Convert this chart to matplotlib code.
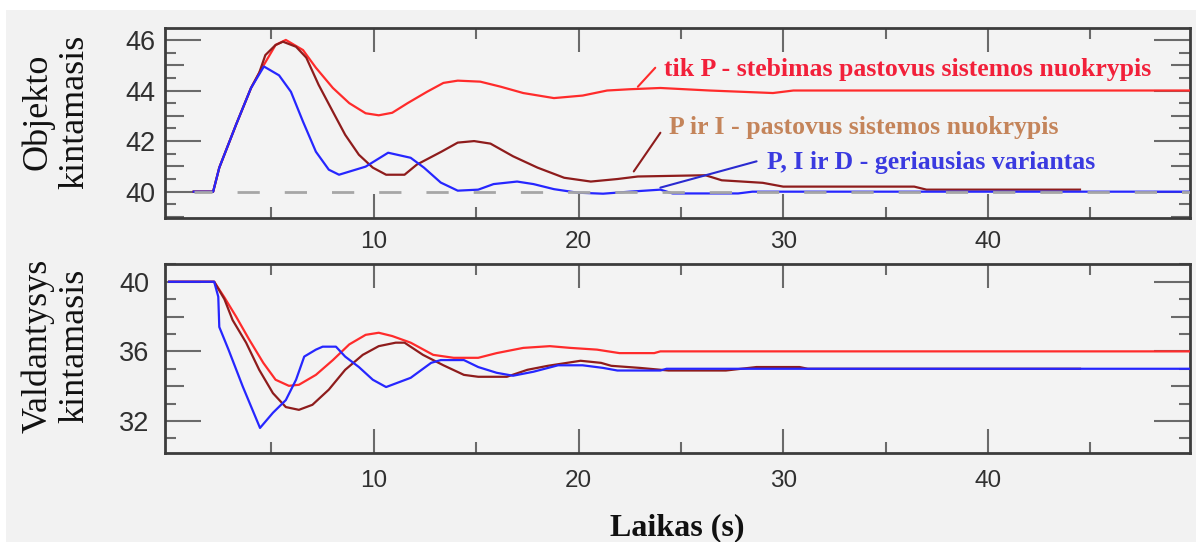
import matplotlib
matplotlib.use('Agg')
import matplotlib.pyplot as plt
from matplotlib.ticker import MultipleLocator, FixedLocator
from matplotlib.patches import Rectangle

plt.rcParams['font.family'] = ['Liberation Sans', 'DejaVu Sans']
plt.rcParams['lines.scale_dashes'] = False

# --- values ---
# top panel: controlled variable (Objekto kintamasis)
t_p_top = [1.2, 2.15, 2.45, 3.27, 4.0, 4.4, 5.2, 5.7, 6.54, 7.17, 8.0, 8.8, 9.6, 10.24,
           10.9, 11.65, 12.6, 13.4, 14.1, 15.2, 16.2, 17.3, 18.8, 20.2, 21.4, 22.5,
           24.0, 26.4, 29.5, 30.5, 49.9]
y_p_top = [40, 40, 40.95, 42.65, 44.1, 44.7, 45.8, 46.0, 45.6, 44.9, 44.1, 43.5, 43.1, 43.02,
           43.12, 43.5, 43.95, 44.3, 44.39, 44.35, 44.15, 43.9, 43.7, 43.8, 44.0, 44.05,
           44.1, 44.0, 43.9, 44.0, 44.0]

t_pi_top = [1.2, 2.15, 2.45, 3.27, 4.0, 4.4, 4.7, 5.2, 5.56, 6.2, 6.7, 7.3, 8.0, 8.6, 9.27,
            9.95, 10.6, 11.5, 12.1, 13.3, 14.1, 14.9, 15.7, 16.8, 18.0, 19.3, 20.6, 21.9,
            22.9, 26.2, 27.0, 29.0, 30.0, 36.4, 37.0, 44.5]
y_pi_top = [40, 40, 40.95, 42.65, 44.1, 44.7, 45.4, 45.8, 45.93, 45.73, 45.3, 44.23, 43.16,
            42.25, 41.46, 40.95, 40.67, 40.67, 41.07, 41.58, 41.94, 42.0, 41.9, 41.4, 40.95,
            40.55, 40.4, 40.5, 40.6, 40.65, 40.45, 40.35, 40.2, 40.2, 40.08, 40.08]

t_pid_top = [1.2, 2.15, 2.45, 3.27, 4.0, 4.63, 5.37, 5.95, 6.54, 7.17, 7.8, 8.3, 9.6, 10.7,
             11.8, 12.45, 13.27, 14.1, 15.1, 15.85, 17.0, 17.8, 18.8, 19.95, 21.2, 22.5,
             24.0, 24.6, 27.8, 28.5, 49.9]
y_pid_top = [40, 40, 40.95, 42.65, 44.1, 44.95, 44.6, 43.95, 42.77, 41.58, 40.87, 40.67,
             40.99, 41.54, 41.34, 40.95, 40.36, 40.04, 40.08, 40.3, 40.4, 40.3, 40.1, 39.96,
             39.92, 40.0, 40.08, 39.93, 39.93, 40.0, 40.0]

setpoint = 40

# bottom panel: manipulated variable (Valdantysys kintamasis)
t_p_bot = [0, 2.2, 2.7, 3.27, 3.9, 4.6, 5.2, 5.85, 6.34, 7.17, 8.0, 8.8, 9.6, 10.24, 10.9,
           11.8, 12.9, 13.9, 15.1, 16.0, 17.3, 18.6, 19.6, 20.9, 22.0, 23.7, 24.0, 49.9]
y_p_bot = [40, 40, 39.1, 38.0, 36.7, 35.34, 34.37, 34.02, 34.08, 34.65, 35.5, 36.4, 36.95,
           37.07, 36.88, 36.5, 35.8, 35.63, 35.63, 35.9, 36.2, 36.3, 36.2, 36.1, 35.9, 35.9,
           36.0, 36.0]

t_pi_bot = [0, 2.2, 2.7, 3.1, 3.76, 4.4, 5.07, 5.7, 6.34, 7.0, 7.8, 8.6, 9.46, 10.24, 11.07,
            11.5, 12.4, 13.4, 14.4, 15.1, 16.5, 17.5, 18.5, 20.1, 21.1, 21.6, 23.0, 24.4,
            27.2, 28.7, 30.8, 31.2, 44.5]
y_pi_bot = [40, 40, 39.0, 37.8, 36.5, 34.94, 33.6, 32.8, 32.64, 32.93, 33.8, 34.94, 35.8,
            36.3, 36.5, 36.5, 35.8, 35.2, 34.65, 34.54, 34.54, 34.94, 35.17, 35.46, 35.34,
            35.17, 35.05, 34.9, 34.9, 35.1, 35.1, 35.0, 35.0]

t_pid_bot = [0, 2.2, 2.4, 2.45, 2.9, 3.6, 4.44, 5.07, 5.7, 6.2, 6.6, 7.17, 7.5, 8.15, 8.6,
             9.27, 9.95, 10.6, 11.8, 12.8, 13.27, 14.4, 15.1, 16.0, 16.8, 17.8, 19.0, 20.2,
             21.2, 21.9, 24.0, 24.3, 49.9]
y_pid_bot = [40, 40, 39.14, 37.4, 36.1, 33.97, 31.6, 32.47, 33.2, 34.37, 35.7, 36.1, 36.27,
             36.27, 35.7, 35.1, 34.37, 33.95, 34.48, 35.34, 35.5, 35.5, 35.1, 34.77, 34.6,
             34.83, 35.2, 35.2, 35.05, 34.9, 34.9, 35.0, 35.0]

x_major = [10, 20, 30, 40]
x_minor = [5, 15, 25, 35, 45]

c_p = '#ff2b2b'
c_pi = '#8e1c1c'
c_pid = '#2626ff'
bg = '#f3f3f3'

fig = plt.figure(figsize=(11.96, 5.42), dpi=100, facecolor='white')
fig.add_artist(Rectangle((6 / 1196, 0), 1, 1 - 10 / 542, transform=fig.transFigure,
                         facecolor='#f2f2f2', edgecolor='none', zorder=-10))

ax_top = fig.add_axes([0.138, 0.5969, 0.8574, 0.3509])
ax_bot = fig.add_axes([0.138, 0.1642, 0.8574, 0.3487])


def style(ax, ylim, major, minor, is_medium, ypad, xpad):
    ax.set_facecolor(bg)
    ax.set_xlim(-0.2, 49.9)
    ax.set_ylim(*ylim)
    ax.xaxis.set_major_locator(FixedLocator(x_major))
    ax.xaxis.set_minor_locator(FixedLocator(x_minor))
    ax.yaxis.set_major_locator(MultipleLocator(major))
    ax.yaxis.set_minor_locator(MultipleLocator(minor))
    ax.tick_params(which='both', direction='in', top=True, right=True,
                   color='#6a6a6a', width=1.5, labelcolor='#303030')
    ax.tick_params(axis='x', which='major', length=17, labelsize=17.5, pad=xpad)
    ax.tick_params(axis='y', which='major', length=26, labelsize=19.5, pad=ypad)
    ax.tick_params(which='minor', length=8)
    for sp in ax.spines.values():
        sp.set_color('#3c3c3c')
        sp.set_linewidth(2)
    # medium-length ticks between the labelled ones
    locs = ax.yaxis.get_minorticklocs()
    ticks = ax.yaxis.get_minor_ticks(len(locs))
    for tk, loc in zip(ticks, locs):
        if is_medium(loc):
            tk.tick1line.set_markersize(14)
            tk.tick2line.set_markersize(14)


style(ax_top, (38.94, 46.46), 2, 0.5, lambda v: abs(v - round(v)) < 1e-6 and round(v) % 2 == 1, 7, 9)
style(ax_bot, (30.16, 41.02), 4, 1, lambda v: abs(v - round(v)) < 1e-6 and round(v) % 4 == 2, 11, 12)

lw = 1.6
ax_top.plot(t_p_top, y_p_top, color=c_p, lw=lw, zorder=3)
ax_top.plot(t_pi_top, y_pi_top, color=c_pi, lw=lw, zorder=3)
ax_top.plot(t_pid_top, y_pid_top, color=c_pid, lw=lw, zorder=4)
ax_top.hlines(setpoint, t_pid_top[0], 49.9, colors='#a6a6a6', lw=2,
              linestyles=[(3, (16, 18))], zorder=5)

ax_bot.plot(t_p_bot, y_p_bot, color=c_p, lw=lw, zorder=3)
ax_bot.plot(t_pi_bot, y_pi_bot, color=c_pi, lw=lw, zorder=3)
ax_bot.plot(t_pid_bot, y_pid_bot, color=c_pid, lw=lw, zorder=4)

# annotations with leader lines
serif = ['Liberation Serif', 'DejaVu Serif']
ax_top.annotate('', xy=(22.9, 44.15), xytext=(23.75, 44.9),
                arrowprops=dict(arrowstyle='-', color=c_p, lw=1.5, shrinkA=0, shrinkB=0))
ax_top.annotate('', xy=(22.7, 40.8), xytext=(24.0, 42.33),
                arrowprops=dict(arrowstyle='-', color=c_pi, lw=1.5, shrinkA=0, shrinkB=0))
ax_top.annotate('', xy=(24.0, 40.16), xytext=(28.7, 41.2),
                arrowprops=dict(arrowstyle='-', color='#2a2ad0', lw=1.5, shrinkA=0, shrinkB=0))
ax_top.text(24.2, 44.82, 'tik P - stebimas pastovus sistemos nuokrypis', color='#f2203a',
            family=serif, fontweight='bold', fontsize=18.5, va='center', ha='left', zorder=6)
ax_top.text(24.4, 42.52, 'P ir I - pastovus sistemos nuokrypis', color='#c4845a',
            family=serif, fontweight='bold', fontsize=18.5, va='center', ha='left', zorder=6)
ax_top.text(29.2, 41.17, 'P, I ir D - geriausias variantas', color='#3a3ae0',
            family=serif, fontweight='bold', fontsize=18.5, va='center', ha='left', zorder=6)

# axis titles
fig.text(56 / 1196, 1 - 112 / 542, 'Objekto\nkintamasis', rotation=90, ha='center',
         va='center', multialignment='center', family=serif, fontsize=26, color='#111111',
         linespacing=1.15)
fig.text(56 / 1196, 1 - 346 / 542, 'Valdantysys\nkintamasis', rotation=90, ha='center',
         va='center', multialignment='center', family=serif, fontsize=26, color='#111111',
         linespacing=1.15)
fig.text(677 / 1196, 1 - 528 / 542, 'Laikas (s)', ha='center', va='center', family=serif,
         fontweight='bold', fontsize=23, color='#111111')

fig.savefig('out.png', dpi=100, facecolor=fig.get_facecolor())
